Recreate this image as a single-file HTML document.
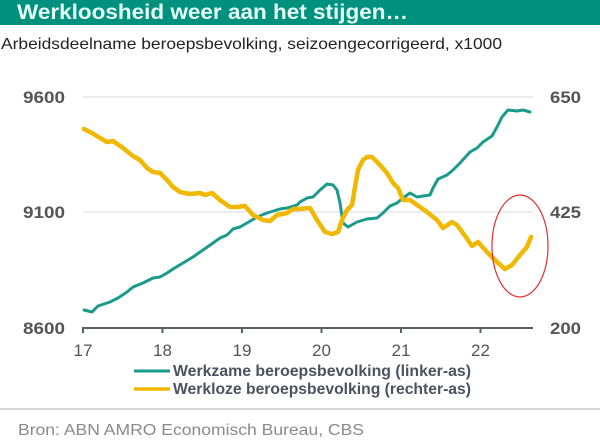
<!DOCTYPE html>
<html><head><meta charset="utf-8"><style>
html,body{margin:0;padding:0;background:#fff;}
svg{display:block;}
text{font-family:"Liberation Sans",Arial,sans-serif;}
</style></head><body>
<svg width="600" height="444" viewBox="0 0 600 444" xmlns="http://www.w3.org/2000/svg">
<rect x="0" y="0" width="600" height="444" fill="#fff"/>
<rect x="0" y="0" width="600" height="25" fill="#00917e"/>
<text x="17" y="19" font-size="21" font-weight="bold" fill="#e6fff7" textLength="391" lengthAdjust="spacingAndGlyphs">Werkloosheid weer aan het stijgen…</text>
<text x="1" y="49" font-size="16" fill="#222" textLength="501" lengthAdjust="spacingAndGlyphs">Arbeidsdeelname beroepsbevolking, seizoengecorrigeerd, x1000</text>

<line x1="83" y1="97" x2="533" y2="97" stroke="#d8d8d8" stroke-width="1"/>
<line x1="83" y1="212" x2="533" y2="212" stroke="#d8d8d8" stroke-width="1"/>

<g font-size="17" fill="#555" font-weight="bold">
<text x="23" y="103" textLength="42" lengthAdjust="spacingAndGlyphs">9600</text>
<text x="23" y="218" textLength="42" lengthAdjust="spacingAndGlyphs">9100</text>
<text x="23" y="334" textLength="42" lengthAdjust="spacingAndGlyphs">8600</text>
<text x="550" y="103" textLength="31" lengthAdjust="spacingAndGlyphs">650</text>
<text x="550" y="218" textLength="31" lengthAdjust="spacingAndGlyphs">425</text>
<text x="550" y="334" textLength="31" lengthAdjust="spacingAndGlyphs">200</text>
</g>

<polyline fill="none" stroke="#1a9a8a" stroke-width="3" stroke-linejoin="round" stroke-linecap="round" points="84,310 92,312 98,306 110,302 118,298 127,292 133,287 143,283 153,278 160,277 167,273 173,269 183,263 193,257 203,250 213,243 220,238 227,235 233,229 240,227 247,223 257,217 267,213 280,209 287,208 297,205 300,202 307,198 313,197 320,190 327,184 333,185 337,190 340,203 343,223 348,227 357,222 367,219 377,218 383,213 390,206 397,203 403,198 410,193 417,197 423,196 430,195 433,188 438,179 447,175 453,170 460,163 470,152 477,148 483,142 492,136 497,127 502,117 508,110 517,111 523,110 530,112"/>

<polyline fill="none" stroke="#f0b800" stroke-width="4.5" stroke-linejoin="round" stroke-linecap="round" points="84,129 92,133 100,138 107,142 113,141 123,148 133,156 140,160 147,168 153,172 160,173 167,180 173,187 180,192 190,194 200,193 205,195 212,193 220,200 230,207 237,207 245,206 253,215 263,220 270,221 277,215 287,213 293,209 300,209 310,208 317,220 325,232 332,234 338,232 342,220 347,210 352,205 355,187 358,170 363,160 367,157 372,157 380,165 387,173 393,183 398,188 403,200 410,200 420,207 427,212 437,220 443,228 452,222 457,225 463,233 472,246 478,242 487,252 497,262 505,269 512,265 520,255 527,247 531,237"/>

<ellipse cx="520" cy="246" rx="28" ry="51" fill="none" stroke="#e03030" stroke-width="1.2"/>

<line x1="83" y1="328" x2="533" y2="328" stroke="#5a6066" stroke-width="2"/>
<g stroke="#5a6066" stroke-width="2">
<line x1="83" y1="327" x2="83" y2="333"/>
<line x1="162.5" y1="327" x2="162.5" y2="333"/>
<line x1="242" y1="327" x2="242" y2="333"/>
<line x1="321.5" y1="327" x2="321.5" y2="333"/>
<line x1="401" y1="327" x2="401" y2="333"/>
<line x1="480.5" y1="327" x2="480.5" y2="333"/>
</g>
<g font-size="17" fill="#555" text-anchor="middle">
<text x="83" y="356">17</text>
<text x="162.5" y="356">18</text>
<text x="242" y="356">19</text>
<text x="321.5" y="356">20</text>
<text x="401" y="356">21</text>
<text x="480.5" y="356">22</text>
</g>

<line x1="134" y1="371" x2="170" y2="371" stroke="#1a9a8a" stroke-width="3"/>
<line x1="134" y1="389" x2="170" y2="389" stroke="#f0b800" stroke-width="3.5"/>
<g font-size="15.5" fill="#4b5260" font-weight="bold">
<text x="173" y="376" textLength="298" lengthAdjust="spacingAndGlyphs">Werkzame beroepsbevolking (linker-as)</text>
<text x="173" y="394" textLength="298" lengthAdjust="spacingAndGlyphs">Werkloze beroepsbevolking (rechter-as)</text>
</g>

<line x1="0" y1="409" x2="600" y2="409" stroke="#c8c8c8" stroke-width="1.5"/>
<text x="18" y="435" font-size="15.5" fill="#8a8a8a" textLength="346" lengthAdjust="spacingAndGlyphs">Bron: ABN AMRO Economisch Bureau, CBS</text>
</svg>
</body></html>
